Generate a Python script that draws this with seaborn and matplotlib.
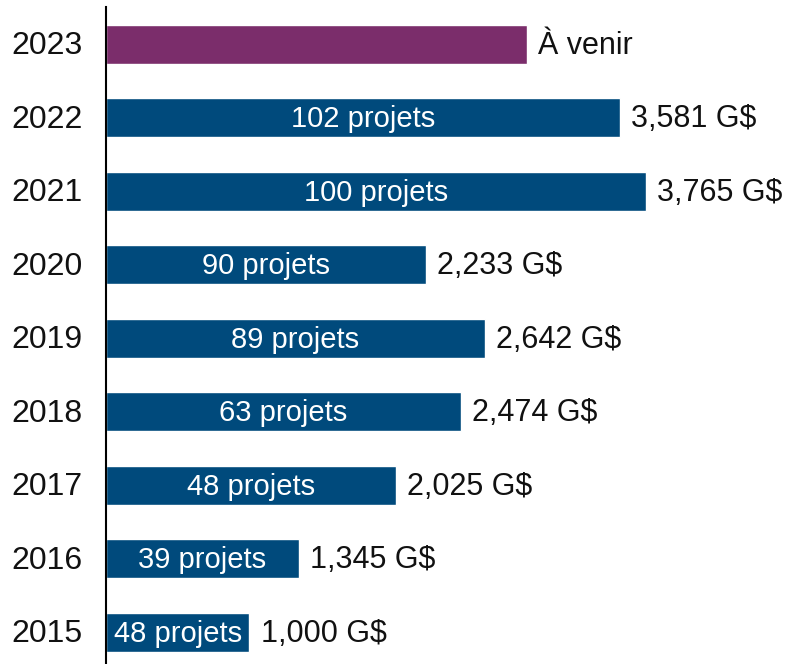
import matplotlib
matplotlib.use("Agg")
import matplotlib.pyplot as plt
import matplotlib.transforms as mtransforms
import seaborn as sns
import pandas as pd

years = ["2023", "2022", "2021", "2020", "2019", "2018", "2017", "2016", "2015"]
values = [2.936, 3.581, 3.765, 2.233, 2.642, 2.474, 2.025, 1.345, 1.000]
value_labels = ["À venir", "3,581 G$", "3,765 G$", "2,233 G$", "2,642 G$",
                "2,474 G$", "2,025 G$", "1,345 G$", "1,000 G$"]
inner_labels = ["", "102 projets", "100 projets", "90 projets", "89 projets",
                "63 projets", "48 projets", "39 projets", "48 projets"]
status = ["future"] + ["done"] * 8

sns.set_theme(style="white")
plt.rcParams["font.family"] = ["Liberation Sans", "DejaVu Sans"]

df = pd.DataFrame({"year": years, "value": values, "status": status})

fig = plt.figure(figsize=(7.91, 6.64), dpi=100)
ax = fig.add_axes([106 / 791, -0.0072, (791 - 106) / 791, 0.9962])

sns.barplot(data=df, x="value", y="year", hue="status", orient="h",
            palette={"future": "#7B2D6B", "done": "#004A7C"},
            width=0.53, dodge=False, legend=False, ax=ax, saturation=1)

ax.set_xlim(0, (791 - 106) / 143.4)
ax.set_ylim(8.5, -0.5)

for i, (v, vl, il) in enumerate(zip(values, value_labels, inner_labels)):
    ax.annotate(vl, (v, i), xytext=(8, -1.2), textcoords="offset points",
                ha="left", va="center", fontsize=22, color="#111111")
    if il:
        ax.annotate(il, (v / 2, i), xytext=(0, -1.2), textcoords="offset points",
                    ha="center", va="center", fontsize=21, color="white")

ax.set_xlabel("")
ax.set_ylabel("")
ax.set_xticks([])
ax.tick_params(axis="y", length=0, labelsize=23, pad=17, labelcolor="#111111")
shift = mtransforms.ScaledTranslation(0, -1.5 / 72, fig.dpi_scale_trans)
for lbl in ax.get_yticklabels():
    lbl.set_verticalalignment("center")
    lbl.set_transform(lbl.get_transform() + shift)
for s in ["top", "right", "bottom"]:
    ax.spines[s].set_visible(False)
ax.spines["left"].set_color("black")
ax.spines["left"].set_linewidth(1.5)

fig.savefig("out.png", dpi=100)
